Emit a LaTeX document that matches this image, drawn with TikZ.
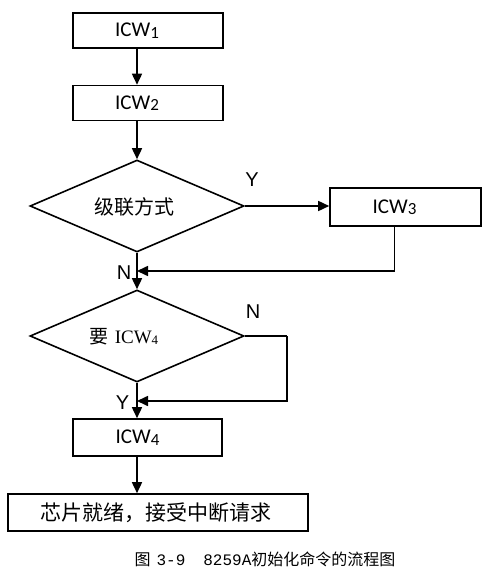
\documentclass[tikz,border=0pt]{standalone}
\usepackage{fontspec}
\setmainfont{Liberation Sans}
\newfontfamily\cjk{Noto Sans CJK SC}
\newfontfamily\calfont{Carlito}
\newfontfamily\serifcw{Liberation Serif}
\newfontfamily\monofont{Liberation Mono}
\usetikzlibrary{arrows.meta,shapes.geometric}
\newcommand{\icw}[1]{{\calfont\fontsize{21}{21}\selectfont ICW\raisebox{-1.5pt}{\fontsize{17}{17}\selectfont #1}}}
\begin{document}
\begin{tikzpicture}[x=1pt,y=-1pt,
  line width=1.6pt,
  box/.style={draw, rectangle, minimum width=150pt, minimum height=35pt, inner sep=0pt},
  dia/.style={draw, diamond, aspect=2.33, minimum width=214pt, minimum height=92pt, inner sep=0pt},
  arr/.style={-{Triangle[length=11pt,width=10pt]}},
  yn/.style={font=\fontsize{20}{20}\selectfont, inner sep=0pt}]
\useasboundingbox (0,0) rectangle (492,578);
\coordinate (axis) at (137,0);
\node[box] (icw1) at (148,30.5) {\icw{1}\kern22pt};
\node[box] (icw2) at (148,103) {\icw{2}\kern22pt};
\node[dia] (d1) at (137,206) {};
\node[font=\cjk\fontsize{20}{20}\selectfont, inner sep=0pt] (t1) at (134,207) {级联方式};
\node[box, minimum width=151pt, minimum height=38pt] (icw3) at (405.5,207) {\icw{3}\kern22pt};
\node[dia] (d2) at (137,336) {};
\node[inner sep=0pt] (t2) at (124,337) {{\cjk\fontsize{19}{19}\selectfont 要}\hspace{6pt}{\serifcw\fontsize{19}{19}\selectfont ICW\raisebox{-1pt}{\fontsize{13}{13}\selectfont 4}}};
\node[box, minimum width=149pt, minimum height=37pt] (icw4) at (147.5,437.5) {\icw{4}\kern20pt};
\node[draw, rectangle, minimum width=300pt, minimum height=37pt, inner sep=0pt] (ready) at (158,512.5) {{\cjk\fontsize{21}{21}\selectfont 芯片就绪，接受中断请求}\kern4pt};
\coordinate (m1) at (137,271);
\coordinate (m2) at (137,401);
\coordinate (c2) at (287,336);
\node[yn] (y1) at (252,180) {Y};
\node[yn] (n1) at (124,273) {N};
\node[yn] (n2) at (253,312) {N};
\node[yn] (y2) at (122.5,403) {Y};
\draw[arr] (icw1.south -| axis) -- (icw2.north -| axis);
\draw[arr] (icw2.south -| axis) -- (d1.north);
\draw[arr] (d1.east) -- (icw3.west |- d1.east);
\draw[arr] ([xshift=-11pt]icw3.south) |- (m1);
\draw[arr] (d1.south) -- (d2.north);
\draw (d2.east) -- (c2);
\draw[arr] (c2) |- (m2);
\draw[arr] (d2.south) -- (icw4.north -| axis);
\draw[arr] (icw4.south -| axis) -- (ready.north -| axis);
\node[inner sep=0pt] (cap) at (265,559) {{\cjk\fontsize{16}{16}\selectfont 图}\kern6pt{\monofont\fontsize{16}{16}\selectfont 3-9}\kern18pt{\monofont\fontsize{16}{16}\selectfont 8259A}{\cjk\fontsize{16}{16}\selectfont 初始化命令的流程图}};
\end{tikzpicture}
\end{document}
